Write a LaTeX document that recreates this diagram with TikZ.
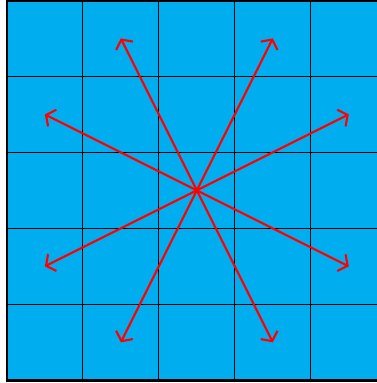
\documentclass[tikz,border=0pt]{standalone}
\usetikzlibrary{arrows.meta}
\definecolor{boardblue}{RGB}{0,174,239}

\begin{document}
\begin{tikzpicture}[>={Straight Barb[length=2.6pt,width=7pt]}, move/.style={red, line width=0.8pt, ->}]
	\useasboundingbox (-0.09,-0.035) rectangle (4.87,5.005);
	\fill[boardblue] (0,0) rectangle (5,5);
	\draw[step=1] (0,0) grid (5,5);
	\draw[line width=1pt] (0,0) rectangle (5,5);
	% knight moves from the centre square
	\coordinate (c) at (2.5,2.5);
	\foreach \dx/\dy in {1/2,2/1,2/-1,1/-2,-1/-2,-2/-1,-2/1,-1/2}
		\draw[move] (c) -- ++(\dx,\dy);
\end{tikzpicture}
\end{document}
